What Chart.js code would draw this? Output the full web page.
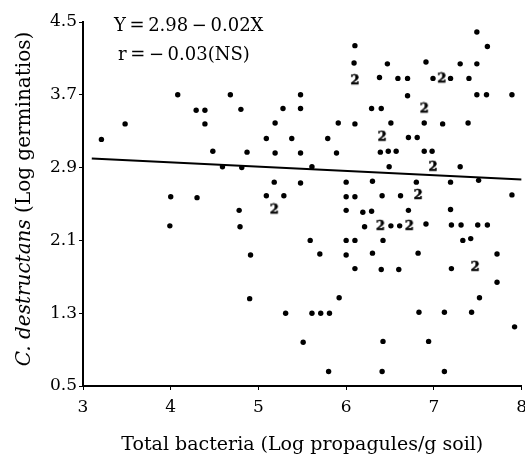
<!DOCTYPE html>
<html>
<head>
<meta charset="utf-8">
<script src="https://cdn.jsdelivr.net/npm/chart.js@4.4.0/dist/chart.umd.min.js"></script>
<style>
html, body { margin: 0; padding: 0; background: #fff; overflow: hidden; }
</style>
</head>
<body>
<!-- a bit wider than the window so the "8" label runs off the edge like in the original -->
<canvas id="scatter" width="534" height="458"></canvas>
<script>
// single observations
var bacteria = [3.21, 3.48, 4.08, 4.29, 4.39, 4.39, 4.48, 4.59, 4.68, 4.80, 4.87, 4.81, 5.09, 4.00, 4.30, 5.09,
	3.99, 4.78, 4.79, 4.91, 4.90,
	7.49, 7.61, 6.10, 6.09, 6.47, 6.91, 7.30, 7.49, 6.38, 6.59, 6.70, 6.99, 7.19, 7.40,
	5.48, 6.70, 7.49, 7.60, 7.89, 5.28, 5.48, 6.29, 6.40,
	5.19, 5.91, 6.10, 6.51, 6.89, 7.10, 7.39, 5.38, 5.79, 6.71, 6.81,
	5.19, 5.48, 5.89, 6.39, 6.48, 6.57, 6.89, 6.98, 5.61, 6.49, 7.30,
	5.18, 5.48, 6.00, 6.30, 6.80, 7.19, 7.51, 5.29, 6.00, 6.10, 6.41, 6.62, 7.89,
	6.00, 6.19, 6.29, 6.71, 7.19, 6.21, 6.51, 6.61, 6.91, 7.20, 7.31, 7.50, 7.61,
	5.59, 6.00, 6.10, 6.42, 7.33, 7.42, 5.70, 6.00, 6.30, 6.82, 7.72,
	6.10, 6.40, 6.60, 7.20, 7.72, 5.92, 7.52,
	5.31, 5.61, 5.71, 5.81, 6.83, 7.12, 7.43, 7.92, 5.51, 6.42, 6.94, 5.80, 6.41, 7.12];
var germination = [3.21, 3.38, 3.70, 3.53, 3.53, 3.38, 3.08, 2.91, 3.70, 3.54, 3.07, 2.90, 3.22, 2.58, 2.57, 2.59,
	2.26, 2.43, 2.25, 1.94, 1.46,
	4.39, 4.23, 4.24, 4.05, 4.04, 4.06, 4.04, 4.04, 3.89, 3.88, 3.88, 3.88, 3.88, 3.88,
	3.70, 3.69, 3.70, 3.70, 3.70, 3.55, 3.55, 3.55, 3.55,
	3.39, 3.39, 3.38, 3.39, 3.39, 3.38, 3.39, 3.22, 3.22, 3.23, 3.23,
	3.06, 3.06, 3.06, 3.07, 3.08, 3.08, 3.08, 3.08, 2.91, 2.91, 2.91,
	2.74, 2.73, 2.74, 2.75, 2.74, 2.74, 2.76, 2.59, 2.58, 2.58, 2.59, 2.59, 2.60,
	2.43, 2.41, 2.42, 2.43, 2.44, 2.25, 2.26, 2.26, 2.28, 2.27, 2.27, 2.27, 2.27,
	2.10, 2.10, 2.10, 2.10, 2.10, 2.12, 1.95, 1.94, 1.96, 1.96, 1.95,
	1.79, 1.78, 1.78, 1.79, 1.64, 1.47, 1.47,
	1.30, 1.30, 1.30, 1.30, 1.31, 1.31, 1.31, 1.15, 0.98, 0.99, 0.99, 0.66, 0.66, 0.66];

// points marked "2" (two coinciding observations)
var bacteria2 = [6.10, 7.09, 6.89, 6.41, 6.99, 6.82, 5.18, 6.39, 6.72, 7.47];
var germination2 = [3.86, 3.88, 3.55, 3.24, 2.91, 2.60, 2.44, 2.26, 2.26, 1.81];

// regression line
var fitX = [3.1, 8];
var fitY = [3.0, 2.77];

var xTicks = [3, 4, 5, 6, 7, 8];
var yTicks = [0.5, 1.3, 2.1, 2.9, 3.7, 4.5];

function pairs(xs, ys) {
	var out = [];
	for (var i = 0; i < xs.length; i++) {
		out.push({ x: xs[i], y: ys[i] });
	}
	return out;
}

var serif = '"DejaVu Serif", serif';

// little canvas with the digit, used as a point style
function digitMark(txt) {
	var c = document.createElement('canvas');
	c.width = 10;
	c.height = 14;
	var g = c.getContext('2d');
	g.font = 'bold 13px ' + serif;
	g.textAlign = 'center';
	g.textBaseline = 'middle';
	g.fillStyle = '#000';
	g.strokeStyle = '#000';
	g.lineWidth = 0.5;
	g.fillText(txt, 5, 7.5);
	g.strokeText(txt, 5, 7.5);
	return c;
}

var textPlugin = {
	id: 'textPlugin',
	afterDraw: function(chart) {
		var ctx = chart.ctx, a = chart.chartArea;
		ctx.save();
		ctx.fillStyle = '#000';
		ctx.textBaseline = 'middle';
		ctx.font = '18px ' + serif;
		ctx.fillText('Y\u2009=\u20092.98\u2009\u2212\u20090.02X', a.left + 31, a.top + 4);
		ctx.fillText('r\u2009=\u2009\u2212\u20090.03(NS)', a.left + 35, a.top + 33);

		// y axis title, part italic
		var p1 = 'C. destructans', p2 = ' (Log germinatios)';
		ctx.font = 'italic 20px ' + serif;
		var w1 = ctx.measureText(p1).width;
		ctx.font = '20px ' + serif;
		var w2 = ctx.measureText(p2).width;
		ctx.translate(25, (a.top + a.bottom) / 2 - 5);
		ctx.rotate(-Math.PI / 2);
		var x0 = -(w1 + w2) / 2;
		ctx.font = 'italic 20px ' + serif;
		ctx.fillText(p1, x0, 0);
		ctx.font = '20px ' + serif;
		ctx.fillText(p2, x0 + w1, 0);
		ctx.restore();
	}
};

var ctx = document.getElementById('scatter');

var chart = new Chart(ctx, {
	type: 'scatter',
	data: {
		datasets: [
			{
				label: 'single',
				data: pairs(bacteria, germination),
				backgroundColor: '#000',
				borderColor: '#000',
				pointRadius: 2.7,
				borderWidth: 0
			},
			{
				label: 'double',
				data: pairs(bacteria2, germination2),
				pointStyle: digitMark('2'),
				pointRadius: 5
			},
			{
				label: 'fit',
				type: 'line',
				data: pairs(fitX, fitY),
				borderColor: '#000',
				borderWidth: 2,
				pointRadius: 0,
				fill: false
			}
		]
	},
	options: {
		responsive: false,
		animation: false,
		devicePixelRatio: 1,
		layout: { padding: { left: 0, right: 0, top: 22, bottom: 0 } },
		plugins: {
			legend: { display: false },
			tooltip: { enabled: false }
		},
		scales: {
			x: {
				type: 'linear',
				min: xTicks[0],
				max: xTicks[xTicks.length - 1],
				ticks: {
					stepSize: 1,
					color: '#000',
					padding: 7,
					font: { family: serif, size: 17 }
				},
				grid: {
					drawOnChartArea: false,
					color: '#000',
					tickLength: 4
				},
				border: { color: '#000', width: 2 },
				title: {
					display: true,
					text: 'Total bacteria (Log propagules/g soil)',
					color: '#000',
					font: { family: serif, size: 19 },
					padding: { top: 4, bottom: 2 }
				},
				afterFit: function(s) {
					s.height = 72;
				}
			},
			y: {
				type: 'linear',
				min: yTicks[0],
				max: yTicks[yTicks.length - 1],
				ticks: {
					stepSize: 0.8,
					color: '#000',
					padding: 2,
					font: { family: serif, size: 17 },
					callback: function(v) { return v.toFixed(1); }
				},
				grid: {
					drawOnChartArea: false,
					color: '#000',
					tickLength: 4
				},
				border: { color: '#000', width: 2 },
				afterFit: function(s) {
					s.width = 83;
					s.paddingTop = 0;
					s.paddingBottom = 0;
				}
			}
		}
	},
	plugins: [textPlugin]
});
</script>
</body>
</html>
